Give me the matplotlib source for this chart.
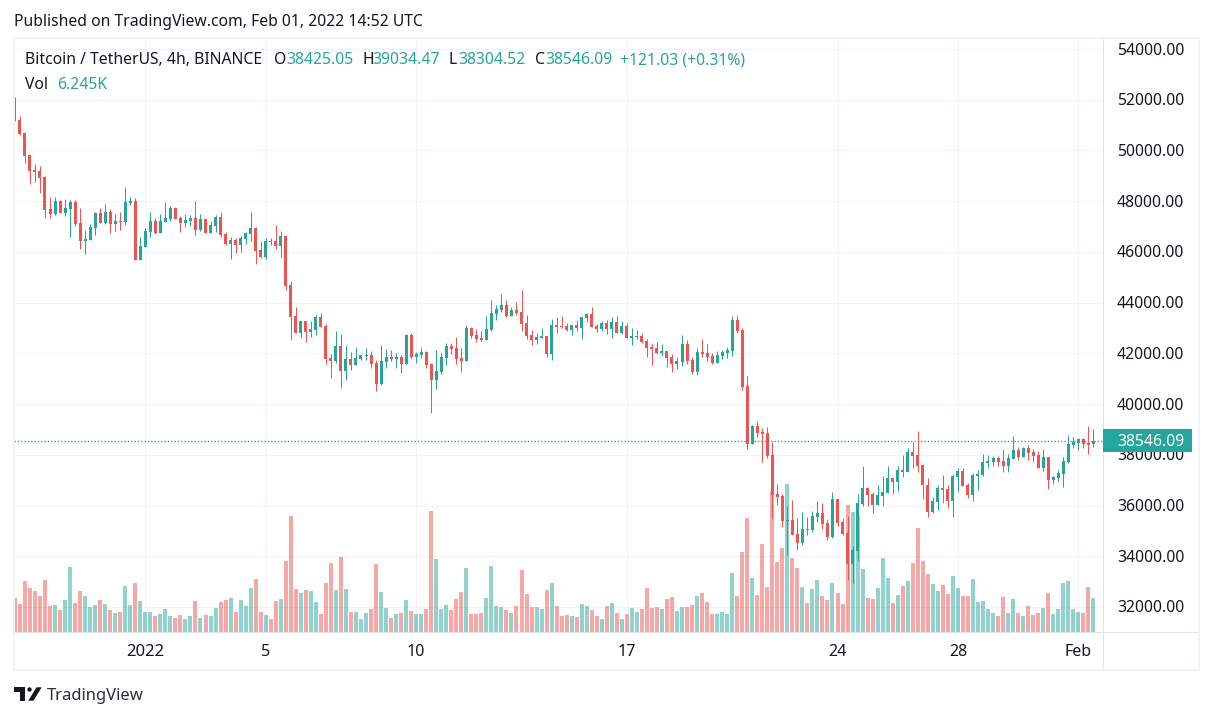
import matplotlib
matplotlib.use("Agg")
import matplotlib.pyplot as plt
from matplotlib.patches import Rectangle, Polygon

W, H = 1213, 718
UP, DOWN = "#26a69a", "#ef5350"
GRID, FRAME, OUTER, INK = "#f0f3fa", "#e0e3eb", "#f0f3fa", "#131722"
plt.rcParams["font.family"] = ["Noto Sans", "DejaVu Sans"]

opens = [51440,51203,50691,49824,49232,49193,48956,47695,47498,48010,
         47537,47695,47971,47143,46434,46473,46946,47537,47143,47577,
         47104,47222,47183,47932,48010,45685,46197,46788,47222,46749,
         47183,47301,47734,47340,47143,47222,47340,46867,47301,46749,
         47025,47380,46710,46315,46473,46276,46512,46710,46946,46079,
         45803,46434,46434,46236,46631,44697,43475,42805,43278,42844,
         42923,43435,43081,41819,41701,42292,41307,41780,41543,41780,
         41898,41937,41622,40794,41662,41859,41780,41859,41583,42726,
         41859,41937,42056,41583,40952,41267,41819,42292,42213,41819,
         41701,43002,42726,42608,42529,42923,43554,43711,43908,43475,
         43711,43633,43199,42726,42529,42608,42686,41976,43119,43080,
         43080,42922,43119,43001,43395,43553,43080,42962,43198,42962,
         43238,42804,43080,42607,42646,42686,42489,42252,42213,42016,
         42095,41858,41582,41661,42371,41740,41267,42055,42016,41897,
         41622,41897,42016,42095,43317,42922,40715,38429,39138,38902,
         38862,37994,36457,36378,35392,35432,34880,34525,35077,35038,
         35550,35708,35314,34762,36260,35353,34919,33697,34210,36063,
         36693,36457,36023,36378,36496,37087,36930,37403,37324,38112,
         37994,37600,36811,35747,36141,36693,36654,36181,37127,37363,
         36811,36417,37166,37206,37679,37718,37876,37758,37560,37836,
         38191,37915,38270,38112,37994,37482,37915,37009,37087,37245,
         37718,38388,38467,38625,38467,38425.05]
closes = [51164,50652,49784,49193,49154,48917,47656,47498,48010,47537,
          47734,47971,47104,46434,46512,46985,47537,47143,47577,47104,
          47222,47183,47971,48010,45685,46236,46828,47222,46749,47222,
          47340,47734,47301,47143,47261,47340,46867,47301,46749,47064,
          47380,46670,46315,46473,46276,46552,46749,46946,46039,45803,
          46434,46394,46236,46631,44657,43435,42805,43278,42844,42962,
          43435,43041,41780,41701,42292,41307,41780,41543,41819,41937,
          41937,41583,40794,41701,41859,41780,41859,41583,42726,41859,
          41977,42056,41543,40952,41307,41859,42292,42174,41780,41701,
          43002,42686,42568,42529,42962,43593,43751,43908,43475,43711,
          43593,43160,42686,42529,42647,42686,41976,43119,43041,43041,
          42922,43119,43001,43435,43553,43041,42962,43198,42962,43238,
          42804,43080,42607,42686,42686,42449,42213,42173,42016,42095,
          41819,41582,41700,42371,41700,41267,42055,41976,41858,41622,
          41937,42055,42134,43317,42883,40675,38429,39138,38862,38823,
          37955,36417,36338,35392,35432,34840,34525,35077,35038,35589,
          35708,35274,34762,36260,35314,34880,33697,34249,36102,36693,
          36417,36023,36417,36536,37087,36930,37403,37324,38112,37955,
          37560,36811,35747,36181,36693,36614,36181,37166,37363,36772,
          36417,37206,37245,37718,37758,37876,37718,37560,37876,38191,
          37915,38270,38073,37955,37482,37915,37009,37127,37285,37758,
          38428,38507,38625,38428,38388,38546.09]
highs = [52110,51361,50730,49824,49469,49390,48996,48168,48168,48050,
         48089,48050,48050,47734,46867,47104,47577,47734,47892,47695,
         47498,47577,48562,48168,48129,46591,46946,47577,47340,47498,
         47971,47813,47774,47419,47498,47458,48010,47498,47301,47222,
         47458,47577,46788,46591,46552,46631,46788,47577,46985,46434,
         46552,46552,47064,46828,46670,44855,43830,43278,43278,43278,
         43514,43593,43160,41977,42884,42765,42332,42056,42253,41937,
         42213,42095,41740,42332,42174,42135,42016,41937,42765,42805,
         42056,42253,42095,41622,42135,42016,42411,42411,42647,42213,
         43120,43041,42962,42884,43475,44106,43908,44342,44106,43830,
         44027,44500,43514,42923,42805,43002,42686,43356,43435,43474,
         43198,43119,43317,43435,43593,43829,43159,43277,43317,43435,
         43474,43277,43198,43001,42922,42804,42568,42410,42449,42371,
         42095,41976,41858,42725,42528,41858,42213,42568,42371,42016,
         42095,42134,42252,43474,43514,43001,41109,39177,39335,39059,
         39099,38507,36851,36457,35984,36220,35511,35747,35550,35787,
         36181,36102,35471,36536,36260,35511,35589,34407,36457,37560,
         36733,36536,36811,37166,37560,37127,37560,37994,38270,38507,
         38940,37600,37087,36338,36811,37206,36811,37245,37482,37482,
         36890,37285,37403,38034,37994,37955,37955,38231,38034,38743,
         38309,38309,38388,38231,38152,38231,37915,37166,37403,37915,
         38782,38704,38664,38664,39137,39034.47]
lows = [51164,50612,49508,48681,48759,48326,47340,47340,47458,47537,
        47419,46591,47025,46118,45921,46473,46670,47143,47104,46749,
        46828,46867,47064,47853,45685,45685,46197,46591,46710,46749,
        47183,47222,47301,46788,46985,47025,46670,46828,46749,46749,
        46788,46591,46276,45724,45961,46000,46315,46434,45527,45763,
        45724,46276,46118,45803,44500,42529,42805,42608,42450,42647,
        42726,43041,41583,41031,41622,40637,40952,41346,41543,41740,
        41740,41425,40518,40755,41425,41701,41425,41228,41583,41780,
        41622,41819,41425,39651,40597,41189,41543,41977,41583,41267,
        41701,42608,42450,42489,42529,42884,43317,43633,43435,43475,
        43514,42884,42568,42332,42371,42608,41858,41740,42804,43001,
        42883,42725,42883,42568,43238,43041,42844,42883,42765,42607,
        42804,42765,42607,42331,42568,42410,41858,41543,41976,41897,
        41464,41267,41385,41503,41582,41188,41148,41858,41700,41582,
        41622,41779,41819,41897,42804,40557,38231,38429,38704,37719,
        37877,35471,36023,35156,34052,34840,34249,34446,34840,34959,
        35353,35077,34643,34722,35195,34840,33067,32948,33816,35984,
        35984,35708,36023,35984,36496,36457,36575,37127,37324,37482,
        37324,36260,35550,35708,35826,36102,35905,35550,36536,36772,
        36299,36181,36614,37166,37482,37560,37560,37324,37324,37836,
        37797,37915,37797,37718,37482,37363,36654,36851,36930,36733,
        37679,38270,38191,38270,38034,38304.52]
volumes_k = [6.24,5.14,9.36,8.08,7.53,6.61,9.55,4.77,4.96,4.04,
             5.88,11.93,5.32,7.53,6.61,4.59,4.96,5.88,5.14,4.04,
             3.49,3.67,8.45,4.96,9.00,5.69,3.67,3.67,2.94,3.30,
             4.22,2.94,2.57,3.12,2.39,2.94,5.69,2.57,3.12,2.94,
             4.41,5.51,5.88,6.24,3.67,5.88,4.77,8.08,9.73,3.67,
             3.12,2.39,5.69,6.06,13.04,21.30,7.89,7.16,7.71,7.53,
             5.51,3.30,9.00,12.67,7.71,13.77,7.89,3.67,3.67,2.39,
             3.49,4.22,12.48,7.34,4.41,2.57,3.30,3.49,5.88,3.86,
             3.30,3.30,4.22,22.22,13.40,4.22,4.96,4.04,6.06,7.34,
             11.75,3.30,3.30,3.49,6.24,12.12,4.77,4.59,4.04,3.49,
             4.77,11.38,6.98,4.59,4.59,4.22,7.71,9.00,4.77,2.94,
             3.12,2.94,2.75,5.14,4.77,4.04,2.94,2.39,4.77,5.32,
             3.49,2.39,3.30,4.41,3.67,4.22,8.08,4.41,4.59,4.22,
             6.06,6.43,3.86,4.59,4.59,4.96,6.61,7.16,5.51,3.30,
             3.30,3.67,3.30,10.83,6.61,14.69,20.93,9.91,6.79,16.16,
             8.26,25.89,12.85,15.42,27.17,13.59,11.75,8.26,5.32,7.89,
             9.55,6.61,5.88,9.00,7.16,5.14,23.32,22.03,21.48,11.57,
             6.24,6.06,8.08,13.59,9.91,5.32,6.79,8.45,9.36,12.67,
             19.09,13.04,10.65,8.81,7.53,8.63,6.98,10.28,8.08,6.61,
             6.61,9.73,5.51,5.69,4.22,3.49,2.94,6.43,3.49,6.06,
             3.49,2.94,4.77,3.12,3.49,4.41,7.16,3.30,4.22,9.00,
             9.36,4.22,3.67,3.49,8.26,6.245]
price_ticks = [32000,34000,36000,38000,40000,42000,44000,46000,48000,50000,52000,54000]
date_tick_index = [26,50,80,122,164,188,212]
date_tick_labels = ["2022","5","10","17","24","28","Feb"]
last_price = 38546.09
assert len(opens)==len(closes)==len(highs)==len(lows)==len(volumes_k)==216

PX = 0.72  # one pixel, in points
fig = plt.figure(figsize=(W/100, H/100), dpi=100, facecolor="white")
L, R, T, B = 14.0, 1103.5, 38.5, 632.0
rect = [L/W, 1-B/H, (R-L)/W, (B-T)/H]
xlim = (-0.18, 217.03)
unit = (R-L)/(xlim[1]-xlim[0])

axg = fig.add_axes(rect, zorder=0)          # grid
axv = fig.add_axes(rect, zorder=1, sharex=axg)   # volume
axc = fig.add_axes(rect, zorder=2, sharex=axg, sharey=axg)  # candles
axg.set_xlim(*xlim)
axg.set_ylim(31014, 54416)
axv.set_ylim(0, 108.96)
axv.patch.set_visible(False)
axc.patch.set_visible(False)

xs = list(range(len(opens)))
colors = [UP if c >= o else DOWN for o, c in zip(opens, closes)]

for p in price_ticks:
    axg.axhline(p, color=GRID, lw=PX)
for i in date_tick_index:
    axg.axvline(i, color=GRID, lw=PX)

axv.bar(xs, volumes_k, width=4/unit, color=colors, alpha=0.5, linewidth=0)
axc.vlines(xs, lows, highs, colors=colors, lw=PX, zorder=2)
axc.bar(xs, [abs(c-o) for o, c in zip(opens, closes)], bottom=[min(o, c) for o, c in zip(opens, closes)],
        width=3/unit, color=colors, linewidth=0, zorder=3)
dotted, = axc.plot(xlim, [last_price, last_price], color=UP, lw=1.0, ls=(0, (1.0, 1.4)), zorder=1)
dotted.set_snap(True)

for a in (axg, axv, axc):
    a.tick_params(left=False, right=False, top=False, bottom=False,
                  labelleft=False, labelbottom=False, labelright=False)
    a.set_xticks([])
    a.set_yticks([])
    for s in a.spines.values():
        s.set_visible(False)

to_x = lambda px: px/W
to_y = lambda py: 1-py/H

def frect(x0, y0, x1, y1, color, z=5):
    fig.add_artist(Rectangle((to_x(x0), to_y(y1)), (x1-x0)/W, (y1-y0)/H, transform=fig.transFigure,
                             facecolor=color, edgecolor="none", zorder=z))
frect(13, 37, 1200, 39, OUTER)
frect(13, 669, 1200, 671, OUTER)
frect(13, 37, 15, 671, OUTER)
frect(1198, 37, 1200, 671, OUTER)
frect(15, 632, 1198, 633, FRAME)
frect(1103, 39, 1104, 669, FRAME)

for p in price_ticks:
    y = 607 - (p-32000)*0.02536
    fig.text(to_x(1117), to_y(y+1.5), f"{p:.2f}", color=INK, fontsize=11.3, va="center", ha="left", zorder=6)

tag_y = 607 - (last_price-32000)*0.02536
frect(1103, 429, 1192, 452, UP, 7)
fig.text(to_x(1117), to_y(tag_y+1.5), f"{last_price:.2f}", color="white", fontsize=11.3, va="center", ha="left",
         zorder=8, fontweight="medium")

for i, lab in zip(date_tick_index, date_tick_labels):
    px = L + (i-xlim[0])*unit
    fig.text(to_x(px), to_y(651.5), lab, color=INK, fontsize=11.5 if lab != "2022" else 12, ha="center", va="center",
             zorder=6, fontweight="bold" if lab == "2022" else "normal")

FS = 11.3
fig.text(to_x(14), to_y(22.5), "Published on TradingView.com, Feb 01, 2022 14:52 UTC", color=INK, fontsize=FS, va="center")
def t(x, y, s, c=INK):
    fig.text(to_x(x), to_y(y), s, color=c, fontsize=FS, va="center", zorder=6)
t(25, 60.5, "Bitcoin / TetherUS, 4h, BINANCE")
t(274, 60.5, "O"); t(286, 60.5, "38425.05", UP)
t(362, 60.5, "H"); t(372, 60.5, "39034.47", UP)
t(449, 60.5, "L"); t(458, 60.5, "38304.52", UP)
t(535, 60.5, "C"); t(545, 60.5, "38546.09", UP)
t(620, 60.5, "+121.03 (+0.31%)", UP)
t(25, 85, "Vol"); t(57, 85, "6.245K", UP)

def poly(pts):
    fig.add_artist(Polygon([(to_x(a), to_y(b)) for a, b in pts], closed=True, transform=fig.transFigure,
                           facecolor=INK, edgecolor="none", zorder=6))
poly([(14, 687.3), (25, 687.3), (25, 700.7), (20, 700.7), (20, 692), (14, 692)])
poly([(36.5, 687.3), (41.7, 687.3), (33.5, 700.7), (28.3, 700.7)])
poly([(29.5+2.3*a, 689.5+2.3*b) for a, b in [(1,0),(.7,.7),(0,1),(-.7,.7),(-1,0),(-.7,-.7),(0,-1),(.7,-.7)]])
fig.text(to_x(47), to_y(695.5), "TradingView", color="#2a2e39", fontsize=12, va="center", zorder=6)

fig.savefig("out.png", dpi=100, facecolor="white")
